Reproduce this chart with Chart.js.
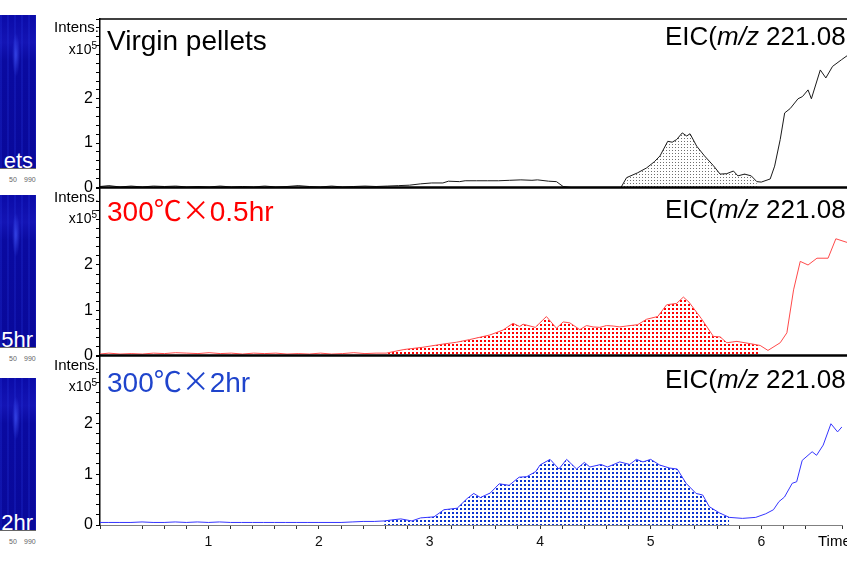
<!DOCTYPE html>
<html>
<head>
<meta charset="utf-8">
<script src="https://cdn.jsdelivr.net/npm/chart.js@4.4.1/dist/chart.umd.min.js"></script>
<style>
  html, body { margin: 0; padding: 0; background: #fff; }
  body { position: relative; width: 847px; height: 571px; overflow: hidden; font-family: "Liberation Sans", Arial, sans-serif; }
  canvas { position: absolute; left: 0; }
  .thumb {
    position: absolute; left: 0; width: 36px; overflow: hidden;
    background:
      radial-gradient(ellipse 4px 22px at 16px 40px, rgba(70, 90, 255, 0.65), rgba(70, 90, 255, 0)),
      repeating-linear-gradient(90deg, rgba(40, 60, 230, 0.22) 0 2px, rgba(0, 0, 0, 0) 2px 7px),
      linear-gradient(#0b0ba8 0%, #1414b4 18%, #0a0aa0 30%, #09099a 100%);
    border-bottom: 1px solid #666;
  }
  .thumb span { position: absolute; right: 3px; bottom: -4px; color: #fff; font-size: 22px; line-height: 22px; }
  .mz { position: absolute; font-size: 7px; color: #666; line-height: 8px; }
</style>
</head>
<body>
<div class="thumb" style="top:15px;height:153px"><span>ets</span></div>
<div class="mz" style="left:9px;top:176px">50</div><div class="mz" style="left:24px;top:176px">990</div>
<div class="thumb" style="top:195px;height:152px"><span>5hr</span></div>
<div class="mz" style="left:9px;top:355px">50</div><div class="mz" style="left:24px;top:355px">990</div>
<div class="thumb" style="top:378px;height:152px"><span>2hr</span></div>
<div class="mz" style="left:9px;top:538px">50</div><div class="mz" style="left:24px;top:538px">990</div>

<canvas id="p1" width="847" height="200" style="top:0px"></canvas>
<canvas id="p2" width="847" height="192" style="top:176px"></canvas>
<canvas id="p3" width="847" height="227" style="top:344px"></canvas>

<script>
// retention time (min) and intensity (x10^5)
const virginTime = [0.02, 0.1, 0.2, 0.3, 0.4, 0.5, 0.6, 0.7, 0.8, 0.9,
  1.0, 1.1, 1.2, 1.3, 1.4, 1.5, 1.6, 1.7, 1.8, 1.9,
  2.0, 2.1, 2.2, 2.3, 2.4, 2.5, 2.6, 2.7, 2.8, 2.9,
  3.0, 3.1, 3.15, 3.25, 3.3, 3.4, 3.5, 3.6, 3.7, 3.8, 3.9, 3.95, 4.05, 4.12, 4.18, 4.25, 4.4, 4.55,
  4.7, 4.75, 4.85, 4.93, 5.0, 5.05, 5.12, 5.16, 5.2, 5.25, 5.29, 5.32, 5.38, 5.45, 5.53, 5.59, 5.65, 5.71, 5.75, 5.81, 5.87, 5.92, 5.96,
  6.04, 6.08, 6.13, 6.17, 6.22, 6.29, 6.33, 6.38, 6.41, 6.49, 6.54, 6.6, 6.68, 6.73];
const virginIntens = [0.02, 0.04, 0.01, 0.03, 0.01, 0.03, 0.02, 0.03, 0.01, 0.02,
  0.01, 0.03, 0.01, 0.02, 0.01, 0.03, 0.01, 0.02, 0.04, 0.02,
  0.01, 0.03, 0.01, 0.02, 0.03, 0.02, 0.03, 0.04, 0.05, 0.08,
  0.10, 0.10, 0.14, 0.13, 0.15, 0.15, 0.15, 0.15, 0.16, 0.17, 0.16, 0.17, 0.14, 0.13, 0.02, 0, 0, 0,
  0, 0.22, 0.33, 0.44, 0.58, 0.71, 1.04, 1.02, 1.08, 1.23, 1.16, 1.21, 0.93, 0.71, 0.49, 0.30, 0.31, 0.37, 0.26, 0.30, 0.26, 0.13, 0.12,
  0.19, 0.48, 1.08, 1.68, 1.78, 2.0, 2.05, 2.2, 2.0, 2.65, 2.47, 2.73, 2.88, 2.97];

const halfHrTime = [0.02, 0.1, 0.2, 0.3, 0.4, 0.5, 0.6, 0.7, 0.8, 0.9,
  1.0, 1.1, 1.2, 1.3, 1.4, 1.5, 1.6, 1.7, 1.8, 1.9, 2.0, 2.1, 2.2, 2.3, 2.4, 2.5,
  2.59, 2.75, 2.92, 3.10, 3.22, 3.34, 3.52, 3.64, 3.73, 3.79,
  3.82, 3.93, 4.03, 4.12, 4.18, 4.24, 4.33, 4.39, 4.45, 4.51,
  4.57, 4.63, 4.69, 4.75, 4.85, 4.93, 5.03, 5.11, 5.20, 5.26,
  5.31, 5.42, 5.53, 5.59, 5.65, 5.74, 5.86, 5.95, 6.02, 6.13,
  6.19, 6.25, 6.31, 6.38, 6.46, 6.56, 6.63, 6.73];
const halfHrIntens = [0.03, 0.05, 0.03, 0.04, 0.03, 0.05, 0.04, 0.06, 0.05, 0.04,
  0.06, 0.04, 0.05, 0.03, 0.05, 0.04, 0.05, 0.03, 0.04, 0.03, 0.05, 0.03, 0.04, 0.06, 0.04, 0.05,
  0.05, 0.13, 0.18, 0.25, 0.29, 0.35, 0.45, 0.56, 0.71, 0.64,
  0.69, 0.62, 0.86, 0.60, 0.74, 0.72, 0.57, 0.66, 0.63, 0.62,
  0.66, 0.65, 0.63, 0.65, 0.68, 0.80, 0.86, 1.12, 1.15, 1.29,
  1.18, 0.82, 0.42, 0.41, 0.28, 0.31, 0.26, 0.22, 0.11, 0.28,
  0.50, 1.45, 2.08, 2.0, 2.15, 2.15, 2.58, 2.5];

const twoHrTime = [0.02, 0.1, 0.2, 0.3, 0.4, 0.5, 0.6, 0.7, 0.8, 0.9,
  1.0, 1.1, 1.2, 1.3, 1.4, 1.5, 1.6, 1.7, 1.8, 1.9, 2.0, 2.1, 2.2, 2.3, 2.4, 2.5,
  2.59, 2.66, 2.74, 2.84, 2.92, 3.04, 3.13, 3.25, 3.34, 3.40,
  3.46, 3.55, 3.63, 3.72, 3.81, 3.88, 3.96, 4.00, 4.09, 4.17,
  4.24, 4.33, 4.40, 4.45, 4.55, 4.61, 4.72, 4.81, 4.87, 4.93,
  5.00, 5.08, 5.17, 5.24, 5.32, 5.41, 5.47, 5.53, 5.62, 5.71,
  5.83, 5.95, 6.04, 6.11, 6.16, 6.21, 6.28, 6.32, 6.37, 6.46,
  6.50, 6.56, 6.63, 6.69, 6.73];
const twoHrIntens = [0.05, 0.05, 0.05, 0.05, 0.06, 0.05, 0.05, 0.06, 0.05, 0.06,
  0.05, 0.06, 0.05, 0.05, 0.05, 0.05, 0.05, 0.05, 0.05, 0.05, 0.05, 0.05, 0.05, 0.06, 0.07, 0.07,
  0.08, 0.10, 0.12, 0.08, 0.14, 0.16, 0.30, 0.33, 0.52, 0.62,
  0.54, 0.63, 0.81, 0.78, 0.94, 0.95, 1.05, 1.18, 1.29, 1.10,
  1.29, 1.10, 1.23, 1.14, 1.19, 1.14, 1.24, 1.19, 1.29, 1.24,
  1.29, 1.18, 1.12, 1.10, 0.82, 0.62, 0.59, 0.36, 0.24, 0.15,
  0.13, 0.15, 0.22, 0.30, 0.46, 0.55, 0.82, 0.85, 1.27, 1.44,
  1.37, 1.57, 1.99, 1.83, 1.93];

// integrated (dotted) ranges, min
const virginFill = [4.70, 5.92];
const halfHrFill = [2.59, 5.95];
const twoHrFill = [2.59, 5.71];

const xTickValues = [1, 2, 3, 4, 5, 6];
const yTickValues = [0, 1, 2];
const panelTitles = ['Virgin pellets', '300℃×0.5hr', '300℃×2hr'];

const FONT = '"Liberation Sans", Arial, sans-serif';
const CJK = '"Noto Sans CJK JP", sans-serif';

function dotPattern(color, step, size) {
  const c = document.createElement('canvas');
  c.width = step; c.height = step;
  const g = c.getContext('2d');
  g.fillStyle = color;
  g.fillRect(0, 0, size, size);
  return g.createPattern(c, 'repeat');
}

const isTick = (list, v) => list.some(t => Math.abs(t - v) < 1e-6);

function drawTitle(ctx, text, color, x, y) {
  ctx.fillStyle = color;
  ctx.textBaseline = 'alphabetic';
  ctx.textAlign = 'left';
  // the degree sign and multiply sign come from a CJK font, as in the original
  const parts = text.split(/([℃×])/).filter(s => s.length);
  for (const p of parts) {
    ctx.font = (p === '℃' || p === '×') ? '28px ' + CJK : '28px ' + FONT;
    ctx.fillText(p, x, y);
    x += ctx.measureText(p).width;
  }
}

function drawEic(ctx, x, y) {
  ctx.fillStyle = '#000';
  ctx.textAlign = 'left';
  ctx.textBaseline = 'alphabetic';
  ctx.font = '26px ' + FONT;
  ctx.fillText('EIC(', x, y);
  x += ctx.measureText('EIC(').width;
  ctx.font = 'italic 26px ' + FONT;
  ctx.fillText('m/z', x, y);
  x += ctx.measureText('m/z').width;
  ctx.font = '26px ' + FONT;
  ctx.fillText(' 221.08', x, y);
}

function makePanel(p) {
  const points = p.time.map((t, i) => ({ x: t, y: p.intens[i] }));
  const area = points.filter(pt => pt.x >= p.fill[0] - 1e-9 && pt.x <= p.fill[1] + 1e-9);

  const labels = {
    id: 'labels' + p.id,
    afterDraw(chart) {
      const { ctx, chartArea } = chart;
      const a = chartArea;
      ctx.save();
      ctx.strokeStyle = '#000';
      if (!p.bottom) {
        ctx.lineWidth = 2.5;
        ctx.beginPath();
        ctx.moveTo(a.left, a.bottom);
        ctx.lineTo(a.right, a.bottom);
        ctx.stroke();
      }
      if (p.topLine) {
        ctx.lineWidth = 1.5;
        ctx.beginPath();
        ctx.moveTo(a.left, a.top);
        ctx.lineTo(a.right, a.top);
        ctx.stroke();
      }
      // Intens. / x10^5
      ctx.fillStyle = '#000';
      ctx.textAlign = 'right';
      ctx.textBaseline = 'middle';
      ctx.font = '15px ' + FONT;
      ctx.fillText('Intens.', a.left - 1, a.top + 9);
      ctx.font = '10px ' + FONT;
      const w5 = ctx.measureText('5').width;
      ctx.fillText('5', a.left - 3, a.top + 27);
      ctx.font = '14px ' + FONT;
      ctx.fillText('x10', a.left - 3 - w5, a.top + 31);

      drawTitle(ctx, p.title, p.titleColor, 107, a.top + p.titleDy);
      drawEic(ctx, 665, a.top + p.eicDy);

      if (p.bottom) {
        ctx.fillStyle = '#000';
        ctx.textAlign = 'left';
        ctx.textBaseline = 'middle';
        ctx.font = '15px ' + FONT;
        ctx.fillText('Time', 818, a.bottom + 17);
      }
      ctx.restore();
    }
  };

  const xScale = {
    type: 'linear',
    min: 0.02,
    max: 6.73,
    display: p.bottom,
    border: { display: true, color: '#808080', width: 1 },
    grid: { display: true, drawOnChartArea: false, tickLength: 4, color: '#333' },
    ticks: {
      stepSize: 0.2,
      autoSkip: false,
      maxRotation: 0,
      padding: 5,
      color: '#111',
      font: { family: FONT, size: 14 },
      callback: v => isTick(xTickValues, v) ? String(Math.round(v)) : ''
    }
  };
  if (p.bottom) xScale.afterFit = s => { s.height = 46; };

  return new Chart(document.getElementById(p.id), {
    type: 'line',
    data: {
      datasets: [{
        data: points,
        borderColor: p.lineColor,
        borderWidth: 1,
        pointRadius: 0,
        tension: 0,
        fill: false
      }, {
        data: area,
        borderWidth: 0,
        borderColor: 'rgba(0,0,0,0)',
        backgroundColor: p.pattern,
        pointRadius: 0,
        tension: 0,
        fill: 'origin'
      }]
    },
    options: {
      responsive: false,
      animation: false,
      layout: { padding: { top: p.padTop, bottom: p.bottom ? 0 : 12, left: 0, right: 0 } },
      plugins: { legend: { display: false }, tooltip: { enabled: false } },
      scales: {
        x: xScale,
        y: {
          type: 'linear',
          min: 0,
          max: p.yMax,
          afterFit: s => { s.width = 100; },
          border: { display: true, color: '#000', width: 1.5 },
          grid: { display: true, drawOnChartArea: false, tickLength: 4, color: '#000' },
          ticks: {
            stepSize: 0.2,
            autoSkip: false,
            padding: 3,
            color: '#000',
            font: { family: FONT, size: 16 },
            callback: v => isTick(yTickValues, v) ? String(Math.round(v)) : ''
          }
        }
      }
    },
    plugins: [labels]
  });
}

makePanel({
  id: 'p1', time: virginTime, intens: virginIntens, fill: virginFill,
  lineColor: '#1a1a1a', pattern: dotPattern('#6e6e6e', 3, 1),
  title: panelTitles[0], titleColor: '#000', titleDy: 31, eicDy: 26,
  yMax: 3.8, padTop: 19, topLine: true, bottom: false
});
makePanel({
  id: 'p2', time: halfHrTime, intens: halfHrIntens, fill: halfHrFill,
  lineColor: '#ff4a4a', pattern: dotPattern('#ff0000', 4, 2),
  title: panelTitles[1], titleColor: '#ff0000', titleDy: 32, eicDy: 29,
  yMax: 3.69, padTop: 12, topLine: false, bottom: false
});
makePanel({
  id: 'p3', time: twoHrTime, intens: twoHrIntens, fill: twoHrFill,
  lineColor: '#3535ff', pattern: dotPattern('#0a33d0', 4, 2),
  title: panelTitles[2], titleColor: '#1f44cc', titleDy: 35, eicDy: 31,
  yMax: 3.31, padTop: 12, topLine: false, bottom: true
});
</script>
</body>
</html>
